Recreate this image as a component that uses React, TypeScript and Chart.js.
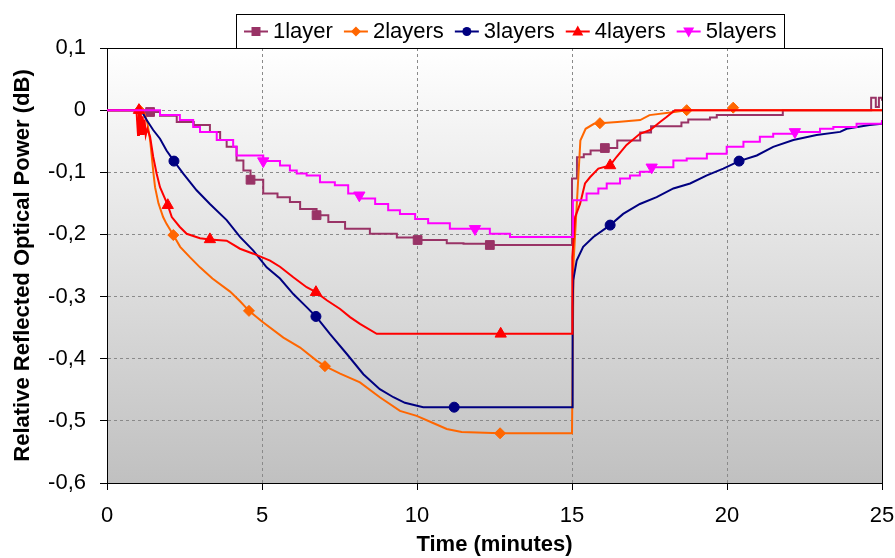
import React, { useEffect, useRef } from 'react';
import { Chart, registerables } from 'chart.js';

Chart.register(...registerables);

// ---------- data ----------
const seriesNames = ['1layer', '2layers', '3layers', '4layers', '5layers'];

const xTickValues = [0, 5, 10, 15, 20, 25];
const yTickValues = [0.1, 0, -0.1, -0.2, -0.3, -0.4, -0.5, -0.6];

// 1layer
const t1 = [0, 1.0, 1.1, 1.39, 1.71, 2.25, 2.8, 3.32, 3.65, 3.86, 4.18, 4.4, 4.63, 5.04, 5.5, 5.9, 6.23, 6.76, 7.14, 7.68, 8.48, 9.35, 10.02, 10.96, 11.5, 12.35, 15.0, 15.16, 15.38, 15.6, 16.06, 16.46, 17.2, 17.55, 18.53, 18.75, 19.45, 19.67, 21.8, 24.6, 24.65, 24.75, 24.8, 24.9, 25.0];
const v1 = [0, 0, -0.003, -0.003, -0.009, -0.019, -0.024, -0.035, -0.048, -0.059, -0.081, -0.097, -0.112, -0.134, -0.14, -0.148, -0.159, -0.169, -0.18, -0.191, -0.199, -0.205, -0.209, -0.214, -0.215, -0.217, -0.11, -0.076, -0.071, -0.065, -0.061, -0.049, -0.036, -0.026, -0.02, -0.015, -0.012, -0.008, 0, 0, 0.02, 0.02, 0.005, 0.02, 0.015];
const m1 = [1.39, 4.63, 6.76, 10.02, 12.35, 16.06];

// 2layers
const t2 = [0, 1.05, 1.2, 1.3, 1.39, 1.5, 1.55, 1.66, 1.81, 1.92, 2.14, 2.36, 2.68, 3.0, 3.4, 3.97, 4.3, 4.58, 5.0, 5.69, 6.23, 6.76, 7.03, 7.52, 8.16, 8.8, 9.45, 9.99, 10.5, 10.96, 11.44, 12.68, 15.0, 15.05, 15.16, 15.27, 15.44, 15.71, 15.9, 16.46, 17.2, 17.5, 18.3, 18.7, 20.1, 20.2, 20.3, 25];
const v2 = [0, 0, -0.005, -0.02, -0.048, -0.102, -0.124, -0.15, -0.172, -0.183, -0.201, -0.22, -0.237, -0.253, -0.271, -0.292, -0.308, -0.323, -0.34, -0.366, -0.382, -0.403, -0.412, -0.424, -0.438, -0.462, -0.484, -0.492, -0.503, -0.513, -0.518, -0.52, -0.52, -0.245, -0.147, -0.049, -0.03, -0.022, -0.021, -0.019, -0.016, -0.008, -0.003, 0, 0, 0.004, 0, 0];
const m2 = [1.05, 2.14, 4.58, 7.03, 12.68, 15.9, 18.7, 20.2];

// 3layers
const t3 = [0, 1.1, 1.28, 1.49, 1.71, 1.92, 2.16, 2.46, 2.89, 3.32, 3.86, 4.29, 4.72, 5.15, 5.58, 6.01, 6.44, 6.74, 7.19, 7.73, 8.27, 8.8, 9.24, 9.61, 10.2, 11.2, 15.0, 15.02, 15.04, 15.15, 15.36, 15.69, 16.23, 16.65, 17.19, 17.73, 18.27, 18.81, 19.35, 19.88, 20.39, 20.96, 21.49, 22.14, 22.89, 23.65, 23.86, 24.6, 25];
const v3 = [0, 0, -0.016, -0.032, -0.046, -0.065, -0.082, -0.102, -0.129, -0.151, -0.177, -0.204, -0.226, -0.253, -0.271, -0.296, -0.317, -0.332, -0.36, -0.392, -0.425, -0.449, -0.462, -0.471, -0.478, -0.478, -0.478, -0.317, -0.274, -0.242, -0.22, -0.204, -0.185, -0.167, -0.151, -0.14, -0.126, -0.118, -0.105, -0.094, -0.082, -0.073, -0.059, -0.048, -0.04, -0.035, -0.03, -0.024, -0.022];
const m3 = [2.16, 6.74, 11.2, 16.23, 20.39];

// 4layers
const t4 = [0, 0.95, 1.0, 1.03, 1.06, 1.09, 1.12, 1.15, 1.18, 1.21, 1.25, 1.3, 1.39, 1.49, 1.6, 1.71, 1.96, 2.09, 2.35, 2.57, 3.0, 3.32, 3.86, 4.29, 4.72, 5.26, 5.58, 6.01, 6.44, 6.74, 7.09, 7.52, 7.84, 8.16, 8.7, 12.7, 15.0, 15.01, 15.1, 15.26, 15.42, 15.58, 15.85, 16.23, 16.44, 16.76, 17.19, 17.52, 17.84, 18.05, 18.32, 25];
const v4 = [0, 0, -0.04, 0, -0.04, -0.005, -0.04, -0.01, -0.04, -0.015, -0.04, -0.03, -0.043, -0.075, -0.102, -0.124, -0.153, -0.172, -0.188, -0.199, -0.206, -0.208, -0.21, -0.223, -0.231, -0.242, -0.252, -0.269, -0.285, -0.293, -0.306, -0.32, -0.333, -0.344, -0.36, -0.36, -0.36, -0.237, -0.172, -0.151, -0.118, -0.108, -0.094, -0.089, -0.075, -0.056, -0.038, -0.032, -0.019, -0.011, 0, 0];
const m4 = [1.03, 1.96, 3.32, 6.74, 12.7, 16.23];

// 5layers
const t5 = [0, 1.39, 1.71, 2.35, 2.78, 3.0, 3.54, 4.07, 4.18, 5.04, 5.58, 5.9, 6.12, 6.44, 6.87, 7.35, 7.78, 8.14, 8.2, 8.65, 9.07, 9.45, 9.94, 10.36, 11.06, 11.87, 12.35, 13.0, 15.03, 15.47, 15.85, 16.12, 16.55, 16.87, 17.19, 17.57, 18.27, 18.7, 19.35, 19.99, 20.53, 21.06, 21.49, 22.19, 23.0, 23.43, 24.18, 25];
const v5 = [0, 0, -0.008, -0.016, -0.027, -0.035, -0.048, -0.059, -0.073, -0.082, -0.089, -0.097, -0.102, -0.105, -0.116, -0.121, -0.134, -0.137, -0.142, -0.151, -0.161, -0.167, -0.175, -0.182, -0.191, -0.191, -0.199, -0.204, -0.145, -0.134, -0.126, -0.118, -0.11, -0.105, -0.099, -0.092, -0.081, -0.078, -0.07, -0.059, -0.051, -0.043, -0.038, -0.035, -0.03, -0.027, -0.022, -0.016];
const m5 = [5.04, 8.14, 11.87, 17.57, 22.19];

// ---------- styles ----------
const FONT = "'Liberation Sans', Arial, Helvetica, sans-serif";
const colors = ['#993366', '#FF6600', '#000080', '#FF0000', '#FF00FF'];
const pointStyles = ['rect', 'rectRot', 'circle', 'triangle', 'triangle'];
const pointRotations = [0, 0, 0, 0, 180];
const pointSizes = [6.2, 5.5, 5, 6.5, 6.5];
const steppedFlags = [true, false, false, false, true];

const times = [t1, t2, t3, t4, t5];
const values = [v1, v2, v3, v4, v5];
const markers = [m1, m2, m3, m4, m5];

const fmt = (v: number) => {
  const r = Math.round(v * 10) / 10;
  if (r === 0) return '0';
  return r.toFixed(1).replace('.', ',');
};

function drawMarker(ctx: CanvasRenderingContext2D, i: number, x: number, y: number) {
  ctx.fillStyle = colors[i];
  ctx.beginPath();
  if (i === 0) {
    ctx.rect(x - 4.5, y - 4.5, 9, 9);
  } else if (i === 1) {
    ctx.moveTo(x, y - 5); ctx.lineTo(x + 5, y); ctx.lineTo(x, y + 5); ctx.lineTo(x - 5, y); ctx.closePath();
  } else if (i === 2) {
    ctx.arc(x, y, 4.5, 0, Math.PI * 2);
  } else if (i === 3) {
    ctx.moveTo(x, y - 6); ctx.lineTo(x + 5.5, y + 4); ctx.lineTo(x - 5.5, y + 4); ctx.closePath();
  } else {
    ctx.moveTo(x, y + 6); ctx.lineTo(x + 5.5, y - 4); ctx.lineTo(x - 5.5, y - 4); ctx.closePath();
  }
  ctx.fill();
}

const bgPlugin = {
  id: 'plotBg',
  beforeDraw(chart: any) {
    const { ctx, chartArea: a } = chart;
    if (!a) return;
    ctx.save();
    const g = ctx.createLinearGradient(0, a.top, 0, a.bottom);
    g.addColorStop(0, '#ffffff');
    g.addColorStop(1, '#c0c0c0');
    ctx.fillStyle = g;
    ctx.fillRect(a.left, a.top, a.right - a.left, a.bottom - a.top);
    ctx.restore();
  },
  beforeDatasetsDraw(chart: any) {
    const { ctx, chartArea: a } = chart;
    ctx.save();
    ctx.strokeStyle = '#000';
    ctx.lineWidth = 1;
    ctx.strokeRect(Math.round(a.left) + 0.5, Math.round(a.top) + 0.5, Math.round(a.right - a.left), Math.round(a.bottom - a.top));
    ctx.restore();
  },
};

const legendPlugin = {
  id: 'boxLegend',
  afterDraw(chart: any) {
    const ctx: CanvasRenderingContext2D = chart.ctx;
    const top = 14;
    const bottom = chart.chartArea.top;
    const cy = (top + bottom) / 2 + 0.5;
    ctx.save();
    ctx.font = `22px ${FONT}`;
    const lineLen = 24;
    const gapLineText = 5;
    const gapItems = 11;
    const padL = 8;
    const padR = 7;
    const widths = seriesNames.map((n) => ctx.measureText(n).width);
    let total = padL + padR;
    widths.forEach((w, i) => {
      total += lineLen + gapLineText + w + (i < widths.length - 1 ? gapItems : 0);
    });
    const left = Math.round(510 - total / 2);
    ctx.fillStyle = '#fff';
    ctx.fillRect(left, top, total, bottom - top);
    ctx.strokeStyle = '#000';
    ctx.lineWidth = 1;
    ctx.strokeRect(left + 0.5, top + 0.5, Math.round(total), bottom - top);
    let x = left + padL;
    seriesNames.forEach((n, i) => {
      ctx.strokeStyle = colors[i];
      ctx.lineWidth = 2;
      ctx.beginPath();
      ctx.moveTo(x, cy);
      ctx.lineTo(x + lineLen, cy);
      ctx.stroke();
      drawMarker(ctx, i, x + lineLen / 2, cy);
      x += lineLen + gapLineText;
      ctx.fillStyle = '#000';
      ctx.textBaseline = 'middle';
      ctx.textAlign = 'left';
      ctx.fillText(n, x, cy);
      x += widths[i] + gapItems;
    });
    ctx.restore();
  },
};

export default function App() {
  const ref = useRef<HTMLCanvasElement | null>(null);

  useEffect(() => {
    if (!ref.current) return;
    const datasets = seriesNames.map((name, i) => ({
      label: name,
      data: times[i].map((t, k) => ({ x: t, y: values[i][k] })),
      borderColor: colors[i],
      backgroundColor: colors[i],
      borderWidth: 2,
      stepped: steppedFlags[i],
      tension: 0,
      fill: false,
      order: 5 - i,
      pointStyle: pointStyles[i],
      pointRotation: pointRotations[i],
      pointBackgroundColor: colors[i],
      pointBorderColor: colors[i],
      pointBorderWidth: 1,
      pointRadius: (c: any) => (markers[i].includes(times[i][c.dataIndex]) ? pointSizes[i] : 0),
      pointHoverRadius: 0,
    }));

    const chart = new Chart(ref.current, {
      type: 'line',
      data: { datasets },
      plugins: [bgPlugin, legendPlugin],
      options: {
        animation: false,
        responsive: true,
        maintainAspectRatio: false,
        events: [],
        layout: { padding: { top: 48, right: 13, bottom: 0, left: 0 } },
        plugins: { legend: { display: false }, tooltip: { enabled: false } },
        scales: {
          x: {
            type: 'linear',
            min: 0,
            max: 25,
            afterFit: (s: any) => { s.height = 75; s.paddingLeft = 0; s.paddingRight = 0; },
            afterBuildTicks: (s: any) => { s.ticks = xTickValues.map((v) => ({ value: v })); },
            ticks: {
              color: '#000',
              font: { family: FONT, size: 22 },
              padding: 13,
              maxRotation: 0,
              callback: (v: any) => String(v),
            },
            grid: {
              color: '#8a8a8a',
              tickColor: '#000',
              tickLength: 7,
              tickBorderDash: [],
              lineWidth: 1,
            },
            border: { display: true, color: '#000', width: 1, dash: [3, 3] },
            title: {
              display: true,
              text: 'Time (minutes)',
              color: '#000',
              font: { family: FONT, size: 22, weight: 'bold' },
              padding: { top: 0, bottom: 0 },
            },
          },
          y: {
            type: 'linear',
            min: -0.6,
            max: 0.1,
            afterFit: (s: any) => { s.width = 107; s.paddingTop = 0; s.paddingBottom = 0; },
            afterBuildTicks: (s: any) => { s.ticks = yTickValues.map((v) => ({ value: v })); },
            ticks: {
              color: '#000',
              font: { family: FONT, size: 22 },
              padding: 14,
              callback: (v: any) => fmt(Number(v)),
            },
            grid: {
              color: '#8a8a8a',
              tickColor: '#000',
              tickLength: 7,
              tickBorderDash: [],
              lineWidth: 1,
            },
            border: { display: true, color: '#000', width: 1, dash: [3, 3] },
            title: {
              display: true,
              text: 'Relative Reflected Optical Power (dB)',
              color: '#000',
              font: { family: FONT, size: 22, weight: 'bold' },
              padding: { top: 10, bottom: 0 },
            },
          },
        },
      },
    } as any);
    return () => chart.destroy();
  }, []);

  return (
    <div style={{ position: 'absolute', left: 0, top: 0, width: 895, height: 558, background: '#fff' }}>
      <canvas ref={ref} />
    </div>
  );
}
